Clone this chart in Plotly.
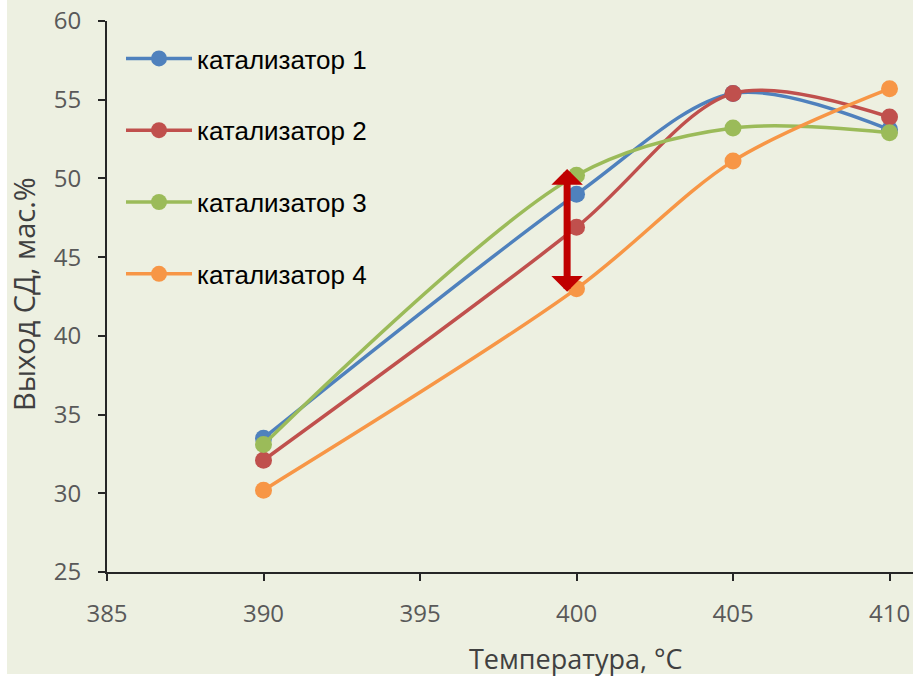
import plotly.graph_objects as go

temps = [390, 400, 405, 410]
names = ["катализатор 1", "катализатор 2", "катализатор 3", "катализатор 4"]
cat1 = [33.5, 49.0, 55.4, 53.1]
cat2 = [32.1, 46.9, 55.4, 53.9]
cat3 = [33.1, 50.2, 53.2, 52.9]
cat4 = [30.2, 43.0, 51.1, 55.7]
series = [cat1, cat2, cat3, cat4]
colors = ["#4F81BD", "#C0504D", "#9BBB59", "#F79646"]
arrow_x = 399.7
arrow_top = 50.6
arrow_bottom = 42.7
x_ticks = [385, 390, 395, 400, 405, 410]
y_ticks = [25, 30, 35, 40, 45, 50, 55, 60]

BG = "#EDF0E1"
W, H = 913, 677
ML, MR, MT, MB = 107, 0, 21, 105
PW, PH = W - ML - MR, H - MT - MB

fig = go.Figure()
for i, (nm, ys, c) in enumerate(zip(names, series, colors)):
    fig.add_trace(go.Scatter(
        x=temps, y=ys, name=nm, mode="lines+markers", legendgroup=f"g{i}",
        line=dict(color=c, width=3.5, shape="spline", smoothing=0.9),
        marker=dict(color=c, size=17),
    ))

# double-headed arrow
fig.add_annotation(x=arrow_x, y=arrow_top, ax=arrow_x, ay=arrow_bottom,
                   xref="x", yref="y", axref="x", ayref="y", text="",
                   showarrow=True, arrowhead=1, startarrowhead=1, arrowside="end+start",
                   arrowsize=0.75, startarrowsize=0.75, arrowwidth=7, arrowcolor="#C00000")

axis_font = dict(family="'Open Sans', 'Liberation Sans', sans-serif", size=24, color="#595959")
fig.update_xaxes(range=[385, 410.75], tickvals=x_ticks, showgrid=False, zeroline=False,
                 showline=True, linecolor="#262626", linewidth=2,
                 ticks="outside", ticklen=7, tickcolor="#262626", tickwidth=2,
                 tickfont=axis_font, ticklabelstandoff=12)
fig.update_yaxes(range=[25, 60], tickvals=y_ticks, showgrid=False, zeroline=False,
                 showline=True, linecolor="#262626", linewidth=2,
                 ticks="outside", ticklen=7, tickcolor="#262626", tickwidth=2,
                 tickfont=axis_font, ticklabelstandoff=12)

fig.add_annotation(text="Температура, °C", xref="paper", yref="paper",
                   x=(576 - ML) / PW, y=-(658 - (H - MB)) / PH, showarrow=False,
                   xanchor="center", yanchor="middle",
                   font=dict(family="'Open Sans', 'Liberation Sans', sans-serif", size=27, color="#404040"))
fig.add_annotation(text="Выход СД, мас.%", xref="paper", yref="paper",
                   x=(23 - ML) / PW, y=((H - MB) - 294) / PH, showarrow=False, textangle=-90,
                   xanchor="center", yanchor="middle",
                   font=dict(family="'Open Sans', 'Liberation Sans', sans-serif", size=29, color="#404040"))

# white border strips like the reference image
fig.add_shape(type="rect", xref="paper", yref="paper", x0=-0.2, x1=(7 - ML) / PW,
              y0=-0.3, y1=1.1, fillcolor="white", line_width=0, layer="below")
fig.add_shape(type="rect", xref="paper", yref="paper", x0=-0.2, x1=1.1,
              y0=-0.3, y1=-(674 - (H - MB)) / PH, fillcolor="white", line_width=0, layer="below")

fig.update_layout(
    width=W, height=H,
    margin=dict(l=ML, r=MR, t=MT, b=MB),
    paper_bgcolor=BG, plot_bgcolor=BG,
    showlegend=True,
    legend=dict(x=(121 - ML) / PW, y=1 - (35 - MT) / PH, xanchor="left", yanchor="top",
                bgcolor="rgba(0,0,0,0)", itemwidth=66, tracegroupgap=35,
                font=dict(family="'Liberation Sans', Arial, sans-serif", size=26, color="#000000")),
)
fig.write_html("out.html", config={"displayModeBar": False},
               post_script="document.body.style.margin='0';")
